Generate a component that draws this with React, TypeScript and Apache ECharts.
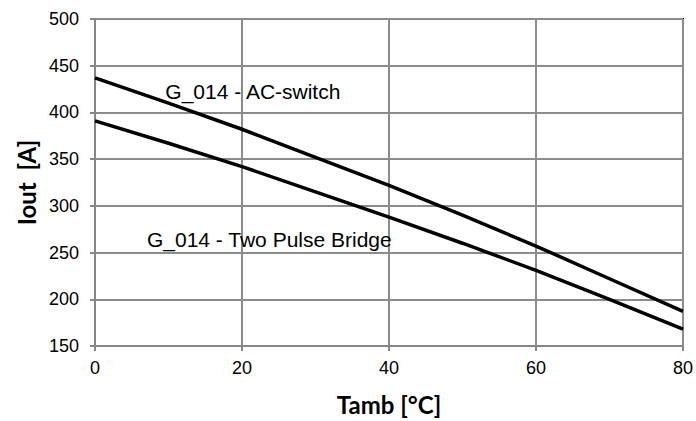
import React, { useEffect, useRef } from "react";
import * as echarts from "echarts";

const temps = [0, 10, 20, 30, 40, 50, 60, 70, 80];
const acSwitch = [437, 410, 382, 352, 322, 290, 257, 222, 187];
const twoPulse = [391, 367, 342, 315, 288, 260, 231, 200, 168];
const acLabel = "G_014 - AC-switch";
const tpLabel = "G_014 - Two Pulse Bridge";

export default function App() {
  const ref = useRef<HTMLDivElement>(null);
  useEffect(() => {
    const chart = echarts.init(ref.current!, null, { renderer: "svg" });
    const font = "'Liberation Sans', Arial, sans-serif";
    const mk = (coord: number[], text: string) => ({
      symbol: "rect",
      symbolSize: 1,
      itemStyle: { color: "rgba(0,0,0,0)" },
      data: [{ coord, value: text }],
      label: {
        show: true,
        position: "right",
        distance: 0,
        formatter: text,
        fontFamily: font,
        fontSize: 21,
        color: "#000",
      },
    });
    chart.setOption({
      animation: false,
      backgroundColor: "#fff",
      grid: {
        left: 95,
        right: 13,
        top: 19,
        bottom: 74,
        show: true,
        borderColor: "#000",
        borderWidth: 2,
      },
      xAxis: {
        type: "value",
        min: 0,
        max: 80,
        interval: 20,
        name: "Tamb [°C]",
        nameLocation: "middle",
        nameGap: 46,
        nameTextStyle: { fontFamily: "Lato", fontWeight: "bold", fontSize: 24, color: "#000" },
        axisLine: { show: true, lineStyle: { color: "#868686", width: 2 } },
        axisTick: { show: true, length: 5, lineStyle: { color: "#868686", width: 2 } },
        axisLabel: { fontFamily: font, fontSize: 18, color: "#000", margin: 13 },
        splitLine: { show: true, lineStyle: { color: "#8c8c8c", width: 2 } },
      },
      yAxis: {
        type: "value",
        min: 150,
        max: 500,
        interval: 50,
        name: "Iout  [A]",
        nameLocation: "middle",
        nameGap: 56,
        nameRotate: 90,
        nameTextStyle: { fontFamily: "Lato", fontWeight: "bold", fontSize: 24, color: "#000" },
        axisLine: { show: true, lineStyle: { color: "#868686", width: 2 } },
        axisTick: { show: true, length: 5, lineStyle: { color: "#868686", width: 2 } },
        axisLabel: { fontFamily: font, fontSize: 18, color: "#000", margin: 16 },
        splitLine: { show: true, lineStyle: { color: "#8c8c8c", width: 2 } },
      },
      series: [
        {
          type: "line",
          name: acLabel,
          data: temps.map((t, i) => [t, acSwitch[i]]),
          showSymbol: false,
          lineStyle: { color: "#000", width: 3.5 },
          markPoint: mk([9.5, 422], acLabel),
        },
        {
          type: "line",
          name: tpLabel,
          data: temps.map((t, i) => [t, twoPulse[i]]),
          showSymbol: false,
          lineStyle: { color: "#000", width: 3.5 },
          markPoint: mk([7.0, 264], tpLabel),
        },
      ],
    });
    return () => chart.dispose();
  }, []);
  return <div ref={ref} style={{ width: 696, height: 421, position: "absolute", left: 0, top: 0 }} />;
}
